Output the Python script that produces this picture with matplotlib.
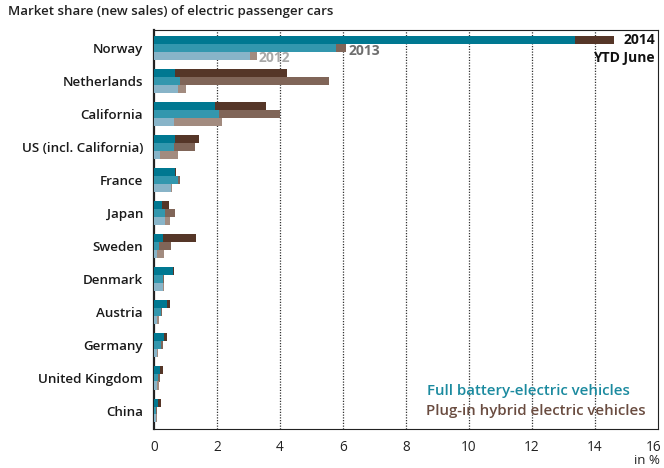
import matplotlib
matplotlib.use("Agg")
import matplotlib.pyplot as plt
import matplotlib.transforms as mtransforms
import numpy as np

plt.rcParams['font.family'] = ['Open Sans', 'DejaVu Sans']

countries = ["Norway", "Netherlands", "California", "US (incl. California)", "France",
             "Japan", "Sweden", "Denmark", "Austria", "Germany", "United Kingdom", "China"]
years = ["2014", "2013", "2012"]

# full battery-electric share, % of new sales
bev = {
    "2014": [13.37, 0.67, 1.94, 0.67, 0.67, 0.25, 0.29, 0.60, 0.41, 0.32, 0.19, 0.13],
    "2013": [5.77, 0.83, 2.06, 0.63, 0.76, 0.35, 0.16, 0.29, 0.22, 0.22, 0.13, 0.06],
    "2012": [3.05, 0.76, 0.63, 0.19, 0.54, 0.35, 0.10, 0.29, 0.10, 0.10, 0.10, 0.06],
}
# plug-in hybrid share, % of new sales
phev = {
    "2014": [1.23, 3.54, 1.60, 0.76, 0.03, 0.23, 1.04, 0.03, 0.10, 0.09, 0.10, 0.09],
    "2013": [0.33, 4.73, 1.94, 0.67, 0.07, 0.32, 0.38, 0.03, 0.03, 0.07, 0.06, 0.02],
    "2012": [0.22, 0.24, 1.52, 0.57, 0.03, 0.16, 0.22, 0.03, 0.05, 0.02, 0.05, 0.04],
}

bev_colors = {"2014": "#007891", "2013": "#3397ae", "2012": "#88b4c8"}
phev_colors = {"2014": "#553628", "2013": "#806558", "2012": "#a28b7f"}
offsets = {"2014": -0.24, "2013": 0.0, "2012": 0.24}

fig = plt.figure(figsize=(6.64, 4.68), dpi=100)
ax = fig.add_axes([154 / 664, 39 / 468, 504 / 664, 399 / 468])

y = np.arange(len(countries))
for yr in years:
    ax.barh(y + offsets[yr], bev[yr], height=0.245, color=bev_colors[yr], linewidth=0, zorder=3)
    ax.barh(y + offsets[yr], phev[yr], left=bev[yr], height=0.245, color=phev_colors[yr],
            linewidth=0, zorder=3)

ax.set_xlim(0, 16)
ax.set_ylim(11.56, -0.55)
ax.set_xticks(range(0, 17, 2))
ax.set_yticks(y)
ax.set_yticklabels(countries, fontsize=9.6, fontweight='semibold', color='#1a1a1a')
ax.tick_params(axis='y', length=0, pad=8)
ax.tick_params(axis='x', length=0, pad=8, labelsize=9.8, labelcolor='#222222')
# pull the last tick label ("16") a little inwards so it stays on the canvas
last = ax.get_xticklabels()[-1]
last.set_transform(last.get_transform() +
                   mtransforms.ScaledTranslation(-4 / 100, 0, fig.dpi_scale_trans))
for v in range(2, 16, 2):
    ax.axvline(v, color='#333333', linestyle=(0, (1, 1.2)), linewidth=0.9, zorder=1)
for name, sp in ax.spines.items():
    sp.set_color('#222222')
    sp.set_linewidth(0.8)
ax.spines['left'].set_linewidth(1.6)

# year annotations at the Norway bars
nor_tot = {yr: bev[yr][0] + phev[yr][0] for yr in years}
ax.text(15.9, offsets["2014"], "2014", ha='right', va='center', fontsize=10,
        fontweight='bold', color='#111111', zorder=4)
ax.text(15.9, 0.3, "YTD June", ha='right', va='center', fontsize=10,
        fontweight='bold', color='#111111', zorder=4)
ax.text(nor_tot["2013"] + 0.06, offsets["2013"] + 0.08, "2013", ha='left', va='center',
        fontsize=10, fontweight='bold', color='#6e6e6e', zorder=4)
ax.text(nor_tot["2012"] + 0.04, offsets["2012"] + 0.05, "2012", ha='left', va='center',
        fontsize=10, fontweight='bold', color='#a8a8a8', zorder=4)

ax.text(0.945, 0.095, "Full battery-electric vehicles", transform=ax.transAxes, ha='right',
        va='center', fontsize=10.8, fontweight='semibold', color='#1b8a9f')
ax.text(0.975, 0.045, "Plug-in hybrid electric vehicles", transform=ax.transAxes, ha='right',
        va='center', fontsize=10.8, fontweight='semibold', color='#6a4c40')

fig.text(8 / 664, 1 - 12 / 468, "Market share (new sales) of electric passenger cars",
         ha='left', va='center', fontsize=9.5, fontweight='semibold', color='#222222')
fig.text(660 / 664, 1 - 461 / 468, "in %", ha='right', va='center', fontsize=9.5,
         color='#222222')

fig.savefig("out.png", dpi=100)
